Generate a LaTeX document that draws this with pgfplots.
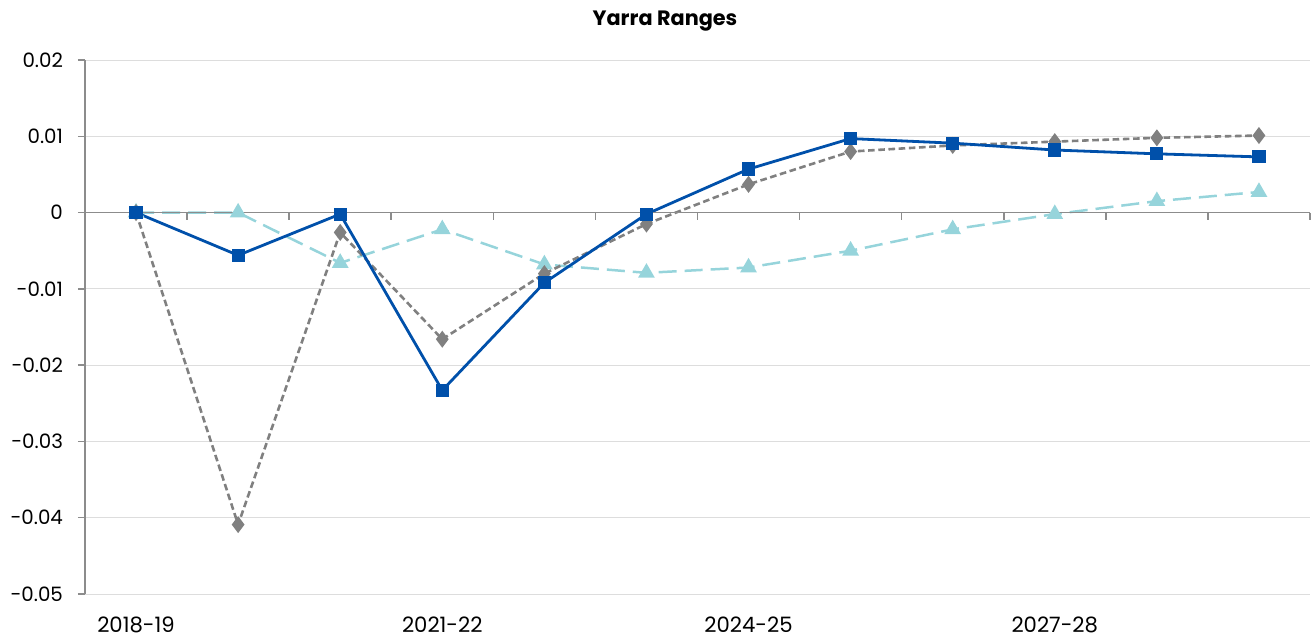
\documentclass[border=0pt]{standalone}
\usepackage{fontspec}
\setmainfont{Poppins}
\usepackage{pgfplots}
\pgfplotsset{compat=1.18}
\definecolor{cblue}{HTML}{0050AA}
\definecolor{cgray}{HTML}{808080}
\definecolor{cteal}{HTML}{96D4DB}
\definecolor{gridc}{HTML}{DDDDDD}
\definecolor{axc}{HTML}{8C8C8C}
\begin{document}
\begin{tikzpicture}
\begin{axis}[
  scale only axis,
  width=612.5pt, height=267pt,
  xmin=-0.5, xmax=11.5,
  ymin=-0.05, ymax=0.02,
  axis x line=none,
  axis y line*=left,
  y axis line style={axc, line width=0.75pt, -},
  ytick={-0.05,-0.04,-0.03,-0.02,-0.01,0,0.01,0.02},
  yticklabels={-0.05,-0.04,-0.03,-0.02,-0.01,0,0.01,0.02},
  scaled y ticks=false,
  ymajorgrids,
  grid style={gridc, line width=0.5pt},
  tick align=outside,
  major tick length=3.5pt,
  ytick style={axc, line width=0.75pt},
  yticklabel style={font=\fontsize{9.9}{11}\selectfont, xshift=-4pt},
  clip=false,
]
\addplot[cteal, line width=1.25pt, dash pattern=on 9pt off 4pt, mark=triangle*, mark size=3.6pt, mark options={solid, fill=cteal, draw=cteal}] coordinates {
 (0,0) (1,0) (2,-0.0066) (3,-0.0022) (4,-0.0068) (5,-0.0079) (6,-0.0072) (7,-0.0050) (8,-0.0022) (9,-0.0002) (10,0.0015) (11,0.0027)};
\addplot[cgray, line width=1.3pt, dash pattern=on 3.3pt off 1.8pt, mark=diamond*, mark size=3.2pt, mark options={solid, fill=cgray, draw=cgray}] coordinates {
 (0,0) (1,-0.0409) (2,-0.0026) (3,-0.0166) (4,-0.0080) (5,-0.0015) (6,0.0037) (7,0.0080) (8,0.0088) (9,0.0093) (10,0.0098) (11,0.0101)};
\addplot[cblue, line width=1.4pt, mark=square*, mark size=2.6pt, mark options={solid, fill=cblue, draw=cblue}] coordinates {
 (0,0) (1,-0.0056) (2,-0.0002) (3,-0.0233) (4,-0.0092) (5,-0.0002) (6,0.0057) (7,0.0097) (8,0.0091) (9,0.0082) (10,0.0077) (11,0.0073)};
\draw[axc, line width=0.75pt] (axis cs:-0.5,0) -- (axis cs:11.5,0);
\pgfplotsinvokeforeach{0.5,1.5,2.5,3.5,4.5,5.5,6.5,7.5,8.5,9.5,10.5,11.5}{
  \draw[axc, line width=0.75pt] (axis cs:#1,0) -- ([yshift=-3.5pt]axis cs:#1,0);
}
\node[font=\fontsize{10.6}{12}\selectfont] at ([yshift=-15.5pt]axis cs:0,-0.05) {2018-19};
\node[font=\fontsize{10.6}{12}\selectfont] at ([yshift=-15.5pt]axis cs:3,-0.05) {2021-22};
\node[font=\fontsize{10.6}{12}\selectfont] at ([yshift=-15.5pt]axis cs:6,-0.05) {2024-25};
\node[font=\fontsize{10.6}{12}\selectfont] at ([yshift=-15.5pt]axis cs:9,-0.05) {2027-28};
\end{axis}
\node[font=\bfseries\fontsize{10.4}{12}\selectfont] at (290pt,286.5pt) {Yarra Ranges};
\pgfresetboundingbox
\path (-42.5pt,-22.5pt) rectangle (614.5pt,297pt);
\end{tikzpicture}
\end{document}
